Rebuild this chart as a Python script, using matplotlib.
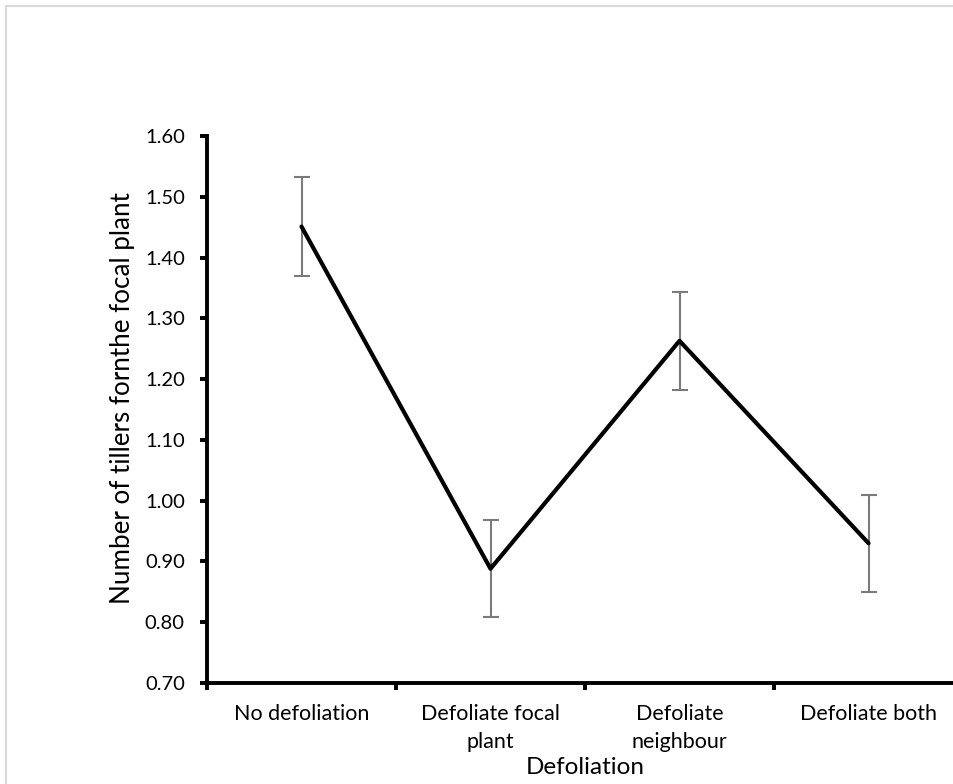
import matplotlib
matplotlib.use("Agg")
import matplotlib.pyplot as plt
from matplotlib.patches import Rectangle

categories = ["No defoliation", "Defoliate focal\nplant", "Defoliate\nneighbour", "Defoliate both"]
means = [1.451, 0.888, 1.263, 0.930]
errors = [0.081, 0.080, 0.081, 0.080]
yticks = [0.70, 0.80, 0.90, 1.00, 1.10, 1.20, 1.30, 1.40, 1.50, 1.60]

plt.rcParams['font.family'] = ['Lato', 'DejaVu Sans']

W, H = 954, 784
fig = plt.figure(figsize=(W / 100, H / 100), dpi=100)

# light grey chart-area border (extends beyond the cropped edge)
fig.patches.append(Rectangle((6 / W, -0.05), 1.1, (H - 6) / H + 0.05, transform=fig.transFigure,
                             fill=False, edgecolor="#d9d9d9", linewidth=1.5))

ax = fig.add_axes([207 / W, (H - 683) / H, 756 / W, 547 / H])
x = [i + 0.5 for i in range(len(categories))]
ax.errorbar(x, means, yerr=errors, fmt='none', ecolor="#7a7a7a", elinewidth=1.5,
            capsize=6, capthick=1.5, zorder=2)
ax.plot(x, means, color="black", linewidth=3.0, zorder=3, solid_capstyle='round')

ax.set_xlim(0, 4)
ax.set_ylim(0.70, 1.60)
ax.set_yticks(yticks)
ax.set_yticklabels([f"{v:.2f}" for v in yticks], fontsize=14.5)
ax.set_xticks([0, 1, 2, 3, 4])
ax.set_xticklabels([])
ax.set_xticks(x, minor=True)
ax.set_xticklabels(categories, minor=True, fontsize=15.5, linespacing=1.5)
ax.tick_params(axis='x', which='minor', length=0, pad=15)
ax.tick_params(axis='x', which='major', length=5, width=2.8, direction='out')
ax.tick_params(axis='y', length=5, width=2.8, direction='out', pad=11)

for s in ["top", "right"]:
    ax.spines[s].set_visible(False)
for s in ["left", "bottom"]:
    ax.spines[s].set_linewidth(2.8)

ax.set_ylabel("Number of tillers fornthe focal plant", fontsize=18.7)
ax.yaxis.label.set_va('center')
ax.yaxis.set_label_coords((123 - 207) / 756, 0.52)
ax.set_xlabel("Defoliation", fontsize=17.5)
ax.xaxis.label.set_va('center')
ax.xaxis.set_label_coords(0.5, (683 - 768) / 547)

fig.savefig("out.png", dpi=100, facecolor="white")
